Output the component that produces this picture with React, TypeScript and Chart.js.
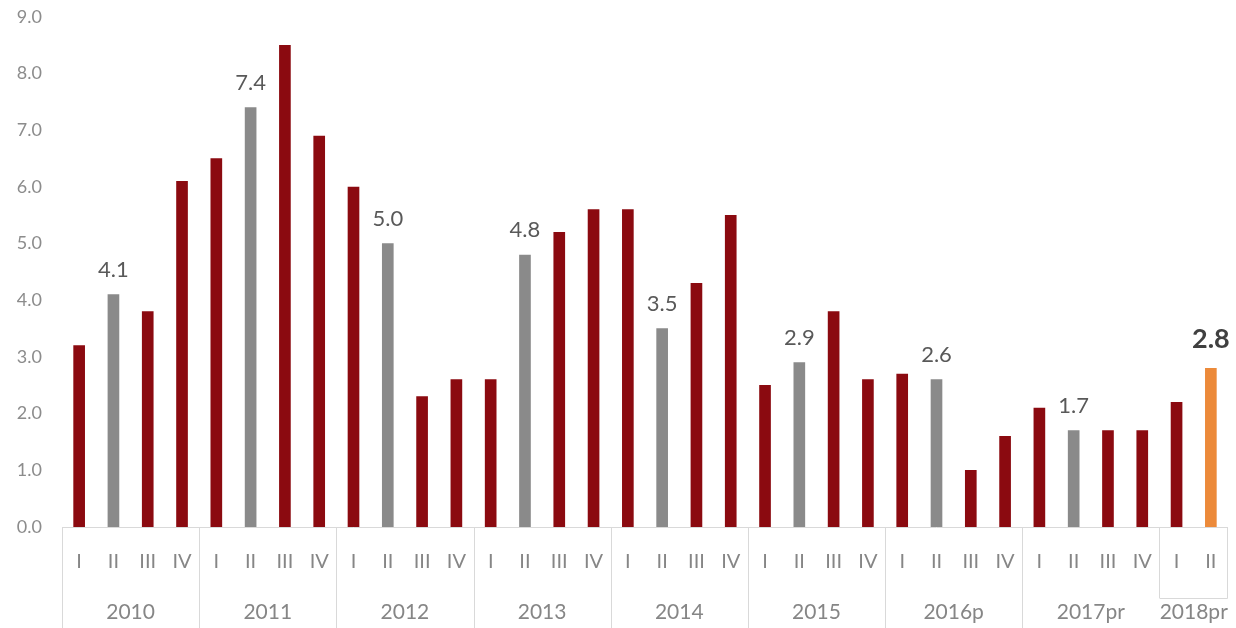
import React, { useEffect, useRef } from "react";
import { Chart, registerables } from "chart.js";

Chart.register(...registerables);

const quarters = [
  "I", "II", "III", "IV", "I", "II", "III", "IV", "I", "II", "III", "IV",
  "I", "II", "III", "IV", "I", "II", "III", "IV", "I", "II", "III", "IV",
  "I", "II", "III", "IV", "I", "II", "III", "IV", "I", "II",
];
const years = ["2010", "2011", "2012", "2013", "2014", "2015", "2016p", "2017pr", "2018pr"];
const yearSizes = [4, 4, 4, 4, 4, 4, 4, 4, 2];
const values = [
  3.2, 4.1, 3.8, 6.1,
  6.5, 7.4, 8.5, 6.9,
  6.0, 5.0, 2.3, 2.6,
  2.6, 4.8, 5.2, 5.6,
  5.6, 3.5, 4.3, 5.5,
  2.5, 2.9, 3.8, 2.6,
  2.7, 2.6, 1.0, 1.6,
  2.1, 1.7, 1.7, 1.7,
  2.2, 2.8,
];
// 0 = regular, 1 = second quarter (grey), 2 = latest (orange)
const barKinds = [
  0, 1, 0, 0, 0, 1, 0, 0, 0, 1, 0, 0, 0, 1, 0, 0, 0, 1, 0, 0,
  0, 1, 0, 0, 0, 1, 0, 0, 0, 1, 0, 0, 0, 2,
];
const yTicks = [0, 1, 2, 3, 4, 5, 6, 7, 8, 9];

const KIND_COLORS = ["#8B0A10", "#8A8A8A", "#EC8A3A"];
const FONT = "Lato, 'Open Sans', sans-serif";
const TEXT_GREY = "#868686";
const LINE_GREY = "#D9D9D9";

const tablePlugin = {
  id: "tablePlugin",
  afterDraw(chart: any) {
    const { ctx, chartArea } = chart;
    const x = chart.scales.x;
    const bottom = chartArea.bottom;
    const H = chart.height;
    const step = x.getPixelForValue(1) - x.getPixelForValue(0);
    ctx.save();
    ctx.strokeStyle = LINE_GREY;
    ctx.lineWidth = 1;
    // axis line
    ctx.beginPath();
    ctx.moveTo(chartArea.left, bottom + 0.5);
    ctx.lineTo(chartArea.right, bottom + 0.5);
    ctx.stroke();
    // quarter labels
    ctx.fillStyle = TEXT_GREY;
    ctx.font = `20px ${FONT}`;
    ctx.textAlign = "center";
    ctx.textBaseline = "middle";
    quarters.forEach((q, i) => {
      ctx.fillText(q, x.getPixelForValue(i), bottom + 35);
    });
    // separators and year labels
    ctx.font = `21px ${FONT}`;
    let start = 0;
    years.forEach((yr, g) => {
      const n = yearSizes[g];
      const left = x.getPixelForValue(start) - step / 2;
      const right = x.getPixelForValue(start + n - 1) + step / 2;
      const isLast = g === years.length - 1;
      ctx.beginPath();
      ctx.moveTo(Math.round(left) + 0.5, bottom);
      ctx.lineTo(Math.round(left) + 0.5, isLast ? bottom + 71 : H);
      if (isLast) {
        ctx.moveTo(Math.round(left) + 0.5, bottom + 71.5);
        ctx.lineTo(Math.round(right) - 0.5, bottom + 71.5);
        ctx.moveTo(Math.round(right) - 0.5, bottom);
        ctx.lineTo(Math.round(right) - 0.5, bottom + 71.5);
      }
      ctx.stroke();
      ctx.fillText(yr, (left + right) / 2, bottom + 85);
      start += n;
    });
    ctx.restore();
  },
};

const labelPlugin = {
  id: "labelPlugin",
  afterDatasetsDraw(chart: any) {
    const { ctx } = chart;
    const meta = chart.getDatasetMeta(0);
    ctx.save();
    ctx.textAlign = "center";
    ctx.textBaseline = "middle";
    meta.data.forEach((bar: any, i: number) => {
      const kind = barKinds[i];
      if (kind === 0) return;
      if (kind === 2) {
        ctx.font = `bold 27px ${FONT}`;
        ctx.fillStyle = "#404040";
        ctx.fillText(values[i].toFixed(1), bar.x, bar.y - 29);
      } else {
        ctx.font = `22px ${FONT}`;
        ctx.fillStyle = "#595959";
        ctx.fillText(values[i].toFixed(1), bar.x, bar.y - 25);
      }
    });
    ctx.restore();
  },
};

export default function App() {
  const ref = useRef<HTMLCanvasElement | null>(null);
  useEffect(() => {
    if (!ref.current) return;
    const chart = new Chart(ref.current, {
      type: "bar",
      data: {
        labels: quarters.map((q, i) => `${q}-${i}`),
        datasets: [
          {
            data: values,
            backgroundColor: barKinds.map((k) => KIND_COLORS[k]),
            barThickness: 11,
          },
        ],
      },
      options: {
        responsive: false,
        animation: false,
        layout: { padding: { top: 17, right: 8, bottom: 101, left: 0 } },
        plugins: { legend: { display: false }, tooltip: { enabled: false } },
        scales: {
          x: { display: false },
          y: {
            min: 0,
            max: 9,
            afterFit: (s: any) => {
              s.width = 62;
              s.paddingTop = 0;
              s.paddingBottom = 0;
            },
            afterBuildTicks: (s: any) => {
              s.ticks = yTicks.map((v) => ({ value: v }));
            },
            border: { display: false },
            grid: { display: false, drawTicks: false },
            ticks: {
              padding: 20,
              color: "#8C8C8C",
              font: { family: FONT, size: 18 },
              callback: (v: any) => Number(v).toFixed(1),
            },
          },
        },
      },
      plugins: [tablePlugin, labelPlugin],
    });
    return () => chart.destroy();
  }, []);
  return (
    <div style={{ position: "absolute", left: 0, top: 0, width: 1236, height: 628, background: "#fff" }}>
      <canvas ref={ref} width={1236} height={628} />
    </div>
  );
}
